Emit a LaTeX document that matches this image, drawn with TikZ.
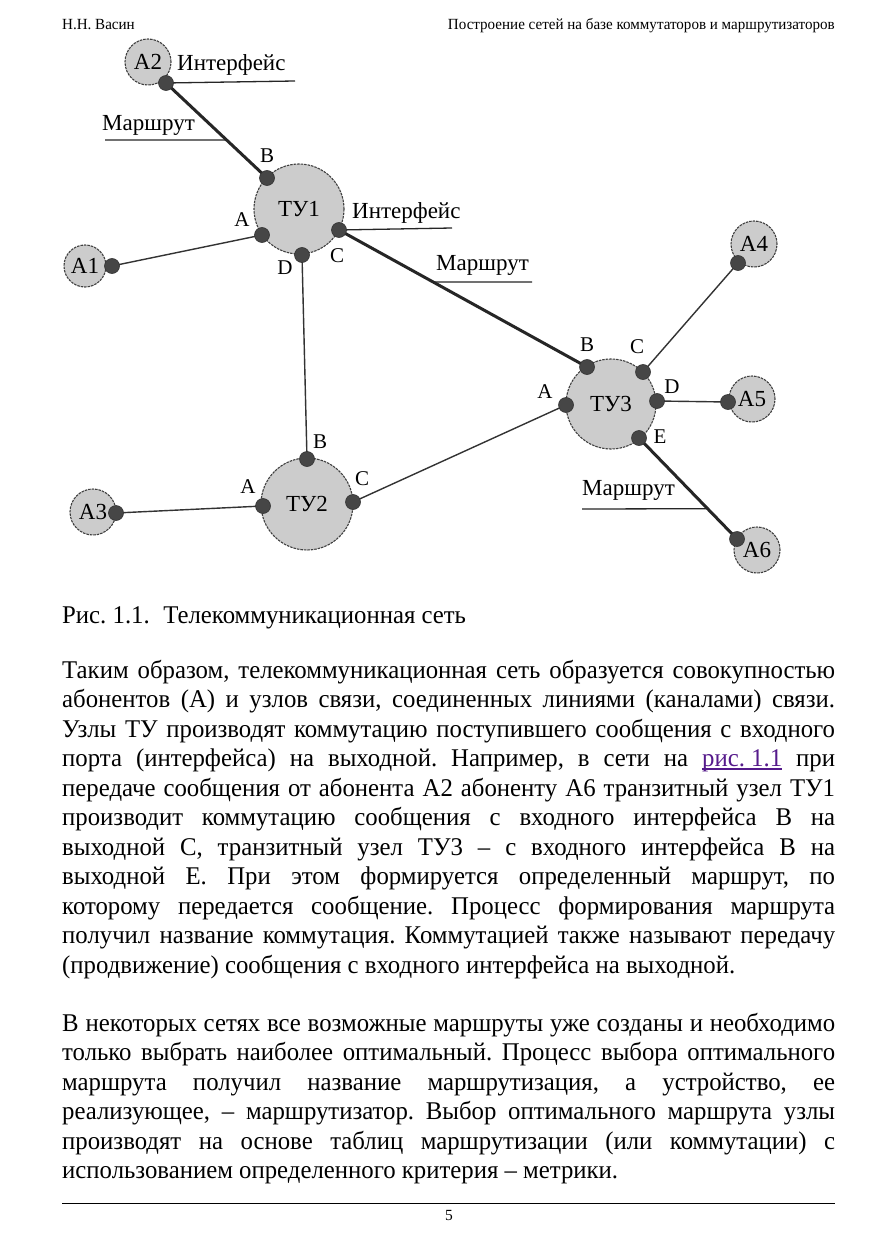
\documentclass[tikz,border=0pt]{standalone}
\usepackage{fontspec}
\setmainfont{Liberation Serif}
\usepackage{graphicx}
\usetikzlibrary{calc}
\frenchspacing
\definecolor{linkc}{RGB}{85,26,139}
\definecolor{nodegray}{RGB}{204,204,204}
\definecolor{portgray}{RGB}{70,70,70}
\newcommand\bodysize{\fontsize{25.5}{29.5}\selectfont}
\newcommand\headsize{\fontsize{15.5}{18}\selectfont}
\newsavebox\lbox
\newsavebox\ubox
\newlength\innerw
\sbox\lbox{\bodysize (продвижение) сообщения с входного интерфейса на выходной.}
\pgfmathsetmacro\kf{673/\the\wd\lbox}
\pgfmathsetlength\innerw{773/\kf}
\newcommand\jl[1]{\sbox\lbox{#1}\ifdim\kf\wd\lbox>773pt\resizebox{773pt}{\height}{#1}\else\scalebox{\kf}[1]{\makebox[\innerw][s]{#1}}\fi}
\newcommand\nl[1]{\scalebox{\kf}[1]{#1}}
\newcommand\lnk[1]{{\color{linkc}\sbox\ubox{#1}\rlap{\rule[-3pt]{\wd\ubox}{1.1pt}}\usebox\ubox}}
\tikzset{
  bodyline/.style={anchor=base west, font=\bodysize, inner sep=0pt},
  headline/.style={font=\headsize, inner sep=0pt},
  bignode/.style={circle, fill=nodegray, draw=black!75, line width=1.1pt, dash pattern=on 2.5pt off 1pt, inner sep=0pt, font=\fontsize{23}{26}\selectfont},
  port/.style={circle, fill=portgray, draw=black!80, line width=0.6pt, minimum size=15pt, inner sep=0pt},
  portlbl/.style={font=\fontsize{21}{23}\selectfont, inner sep=0pt},
  lbl/.style={font=\fontsize{23}{26}\selectfont, inner sep=0pt, anchor=west},
  route/.style={line width=3pt, draw=black!85},
  link/.style={line width=1.4pt, draw=black!80},
  uline/.style={line width=1.3pt, draw=black!85}
}
\begin{document}
\begin{tikzpicture}[x=1pt,y=-1pt]
\useasboundingbox (0,0) rectangle (877,1241);
\fill[white] (0,0) rectangle (877,1241);
% header
\node[headline, anchor=base west] (h1) at (62,30) {\nl{Н.Н. Васин}};
\node[headline, anchor=base east] (h2) at (835,30) {\nl{Построение сетей на базе коммутаторов и маршрутизаторов}};
% big nodes
\node[bignode, minimum size=46pt] (a2) at (148,62) {А2};
\node[bignode, minimum size=42pt] (a1) at (85,266) {А1};
\node[bignode, minimum size=46pt] (a3) at (93,512) {А3};
\node[bignode, minimum size=46pt] (a4) at (754,244) {А4};
\node[bignode, minimum size=46pt] (a5) at (752,399) {А5};
\node[bignode, minimum size=46pt] (a6) at (757,550) {А6};
\node[bignode, minimum size=90pt] (tu1) at (299,209) {ТУ1};
\node[bignode, minimum size=92pt] (tu2) at (307,504) {ТУ2};
\node[bignode, minimum size=90pt] (tu3) at (611,404) {ТУ3};
% port coordinates
\coordinate (pa2) at (166,83);
\coordinate (pa1) at (112,266);
\coordinate (pa3) at (116,513);
\coordinate (pa4) at (738,263);
\coordinate (pa5) at (728,402);
\coordinate (pa6) at (737,539);
\coordinate (t1B) at (267,178);
\coordinate (t1A) at (262,235);
\coordinate (t1D) at (302,255);
\coordinate (t1C) at (339,230);
\coordinate (t2B) at (307,459);
\coordinate (t2A) at (263,506);
\coordinate (t2C) at (353,502);
\coordinate (t3B) at (587,367);
\coordinate (t3C) at (643,372);
\coordinate (t3A) at (566,405);
\coordinate (t3D) at (657,401);
\coordinate (t3E) at (639,438);
% connectors
\draw[route] (pa2) -- (t1B);
\draw[route] (t1C) -- (t3B);
\draw[route] (t3E) -- (pa6);
\draw[link] (pa1) -- (t1A);
\draw[link] (t1D) -- (t2B);
\draw[link] (pa3) -- (t2A);
\draw[link] (t2C) -- (t3A);
\draw[link] (t3C) -- (pa4);
\draw[link] (t3D) -- (pa5);
% underline anchors on route lines
\coordinate (u1) at ($(pa2)!0.6!(t1B)$);
\coordinate (u2) at ($(t1C)!0.38!(t3B)$);
\coordinate (u3) at ($(t3E)!0.70!(pa6)$);
\draw[uline] (pa2) -- (295,81);
\draw[uline] (105,140) -- (u1);
\draw[uline] (t1C) -- (452,228);
\draw[uline] (u2) -- (532,282);
\draw[uline] (582,509) -- (u3);
% ports
\foreach \p in {pa2,pa1,pa3,pa4,pa5,pa6,t1B,t1A,t1D,t1C,t2B,t2A,t2C,t3B,t3C,t3A,t3D,t3E}
  \node[port] (n\p) at (\p) {};
% port labels
\node[portlbl] (l1B) at (267,156) {B};
\node[portlbl] (l1A) at (242,220) {A};
\node[portlbl] (l1D) at (285,268) {D};
\node[portlbl] (l1C) at (337,256) {C};
\node[portlbl] (l2B) at (320,442) {B};
\node[portlbl] (l2A) at (248,487) {A};
\node[portlbl] (l2C) at (362,479) {C};
\node[portlbl] (l3B) at (587,345) {B};
\node[portlbl] (l3C) at (637,347) {C};
\node[portlbl] (l3A) at (545,392) {A};
\node[portlbl] (l3D) at (672,387) {D};
\node[portlbl] (l3E) at (660,437) {E};
% text labels
\node[lbl] (if1) at (177,65) {Интерфейс};
\node[lbl] (mr1) at (102,125) {Маршрут};
\node[lbl] (if2) at (352,213) {Интерфейс};
\node[lbl] (mr2) at (436,265) {Маршрут};
\node[lbl] (mr3) at (582,490) {Маршрут};
% caption
\node[bodyline] (cap) at (62,623) {\nl{Рис. 1.1.\hspace{0.55em}Телекоммуникационная сеть}};
% paragraph 1
\node[bodyline] (p1) at (62,678) {\jl{Таким образом, телекоммуникационная сеть образуется совокупностью}};
\node[bodyline] (p2) at (62,707.5) {\jl{абонентов (А) и узлов связи, соединенных линиями (каналами) связи.}};
\node[bodyline] (p3) at (62,737) {\jl{Узлы ТУ производят коммутацию поступившего сообщения с входного}};
\node[bodyline] (p4) at (62,766.5) {\jl{порта (интерфейса) на выходной. Например, в сети на \lnk{рис. 1.1} при}};
\node[bodyline] (p5) at (62,796) {\jl{передаче сообщения от абонента А2 абоненту А6 транзитный узел ТУ1}};
\node[bodyline] (p6) at (62,825.5) {\jl{производит коммутацию сообщения с входного интерфейса В на}};
\node[bodyline] (p7) at (62,855) {\jl{выходной С, транзитный узел ТУ3 – с входного интерфейса В на}};
\node[bodyline] (p8) at (62,884.5) {\jl{выходной Е. При этом формируется определенный маршрут, по}};
\node[bodyline] (p9) at (62,914) {\jl{которому передается сообщение. Процесс формирования маршрута}};
\node[bodyline] (p10) at (62,943.5) {\jl{получил название коммутация. Коммутацией также называют передачу}};
\node[bodyline] (p11) at (62,973) {\nl{(продвижение) сообщения с входного интерфейса на выходной.}};
% paragraph 2
\node[bodyline] (q1) at (62,1031) {\jl{В некоторых сетях все возможные маршруты уже созданы и необходимо}};
\node[bodyline] (q2) at (62,1060.5) {\jl{только выбрать наиболее оптимальный. Процесс выбора оптимального}};
\node[bodyline] (q3) at (62,1090) {\jl{маршрута получил название маршрутизация, а устройство, ее}};
\node[bodyline] (q4) at (62,1119.5) {\jl{реализующее, – маршрутизатор. Выбор оптимального маршрута узлы}};
\node[bodyline] (q5) at (62,1149) {\jl{производят на основе таблиц маршрутизации (или коммутации) с}};
\node[bodyline] (q6) at (62,1178.5) {\nl{использованием определенного критерия – метрики.}};
% footer
\coordinate (fl) at (62,1203);
\coordinate (fr) at (835,1203);
\draw[line width=0.9pt] (fl) -- (fr);
\node[headline] (pg) at (449,1215) {5};
\end{tikzpicture}
\end{document}
